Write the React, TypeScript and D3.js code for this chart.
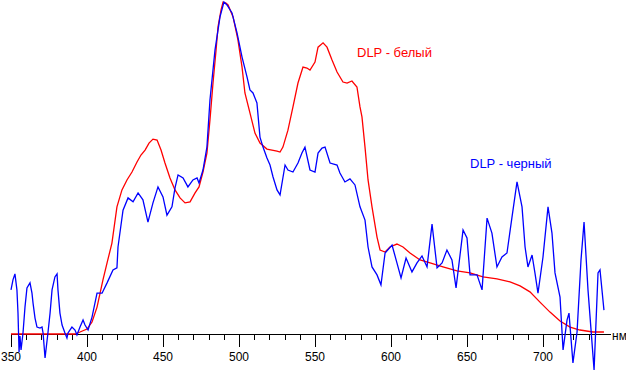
import React from "react";
import * as d3 from "d3";

const W = 626;
const H = 371;

// Wavelength tick labels (nm)
const tickLabels = [350, 400, 450, 500, 550, 600, 650, 700];
const minorTicks = d3.range(350, 731, 10);

// "DLP - белый" (red) series
const whiteNm = [350, 392.1, 395.4, 400, 403.3, 406.6, 410.5, 413.2, 416.4, 419.7, 423.0, 426.3, 429.6, 432.9, 435.5, 438.2, 440.8, 443.4, 446.1, 448.7, 451.3, 454.6, 457.9, 461.2, 464.5, 467.8, 471.1, 473.7, 476.3, 478.9, 480.9, 482.9, 484.9, 486.2, 488.2, 489.5, 491.4, 492.8, 496.1, 499.3, 502.0, 503.9, 507.2, 510.5, 513.8, 518.4, 525.0, 527.0, 528.9, 532.2, 535.5, 538.8, 542.1, 544.7, 546.7, 550, 552.0, 555.3, 557.9, 561.2, 564.5, 568.4, 571.1, 574.3, 577.6, 579.6, 580.9, 582.9, 584.9, 587.5, 590.8, 592.8, 596.1, 599.3, 603.9, 607.9, 612.5, 619.1, 625.7, 634.2, 643.4, 652.0, 660.5, 669.7, 678.3, 684.9, 691.4, 698.0, 704.6, 711.2, 717.8, 724.3, 732.9, 740.1];
const whiteVal = [0, 0, 0.6, 1.5, 3.6, 8.1, 16.3, 21.4, 27.4, 38.3, 43.4, 46.4, 48.8, 51.8, 53.9, 55.4, 57.5, 58.7, 58.4, 55.4, 51.5, 47.0, 43.4, 41.0, 39.5, 39.8, 42.5, 44.3, 48.8, 54.5, 64.5, 75.6, 85.5, 92.5, 97.6, 100, 99.7, 99.1, 95.5, 88.6, 80.4, 72.6, 66.6, 60.5, 57.5, 55.7, 55.1, 54.8, 56.3, 61.4, 68.4, 75.6, 80.4, 80.1, 79.5, 81.9, 86.4, 87.7, 86.4, 82.5, 78.9, 75.9, 75.6, 76.2, 74.4, 68.4, 65.4, 56.3, 46.4, 38.3, 29.2, 25.3, 24.7, 26.2, 27.1, 26.2, 24.4, 22.3, 21.4, 20.2, 19.0, 18.4, 17.2, 16.6, 15.7, 14.5, 12.7, 9.6, 6.6, 3.9, 2.1, 1.2, 0.6, 0.6];

// "DLP - черный" (blue) series
const blackNm = [350, 351.3, 352.6, 353.9, 354.6, 355.3, 355.9, 356.6, 357.9, 359.2, 360.5, 362.5, 363.8, 364.5, 365.8, 367.1, 369.1, 370.4, 371.1, 372.4, 374.3, 375.7, 377.0, 378.9, 380.3, 380.9, 382.2, 383.6, 385.5, 386.8, 387.5, 390.1, 392.1, 393.4, 395.4, 397.4, 398.7, 400.7, 403.3, 406.6, 409.9, 413.2, 417.1, 419.7, 420.4, 423.7, 427.0, 430.3, 433.6, 436.8, 440.1, 443.4, 446.7, 450, 452.6, 455.9, 457.9, 459.9, 463.2, 466.4, 469.7, 472.4, 473.7, 476.3, 478.9, 480.9, 484.2, 487.5, 490.1, 492.1, 495.4, 498.7, 502.0, 505.3, 507.2, 509.2, 511.8, 513.8, 515.8, 518.4, 520.4, 522.4, 525.0, 527.0, 530.3, 532.2, 535.5, 538.8, 541.4, 543.4, 546.7, 550, 552.0, 554.6, 556.6, 559.9, 564.5, 566.4, 569.7, 573.0, 576.3, 579.6, 582.9, 584.9, 587.5, 590.8, 593.4, 596.1, 600.7, 603.9, 606.6, 609.9, 613.8, 617.1, 620.4, 623.7, 627.0, 630.3, 633.6, 636.8, 640.1, 642.8, 647.4, 650, 652.0, 656.6, 659.9, 663.2, 666.4, 669.7, 673.0, 676.3, 679.6, 682.9, 686.2, 688.2, 690.1, 692.8, 694.7, 696.7, 700, 703.3, 705.9, 707.9, 711.2, 713.2, 715.8, 717.1, 719.7, 722.4, 725.0, 727.0, 729.6, 733.6, 736.2, 737.5, 740.1];
const blackVal = [13.3, 16.3, 18.1, 13.3, 6.3, -5.4, -0.6, -4.8, 0.3, 8.1, 13.9, 15.4, 12.3, 9.3, 4.8, 2.1, 1.8, 2.1, 0.3, -7.2, 0.3, 6.3, 13.3, 17.2, 18.1, 13.3, 6.3, 2.7, 0.3, -1.2, 0.3, 2.1, 1.2, -0.3, 2.1, 4.2, 2.7, 1.2, 5.1, 12.3, 12.3, 15.4, 19.3, 19.9, 26.2, 37.3, 41.0, 39.8, 42.5, 40.4, 33.7, 39.5, 44.3, 41.3, 35.8, 38.3, 44.0, 47.9, 47.0, 44.3, 46.4, 47.0, 45.5, 49.4, 56.3, 70.5, 85.5, 95.5, 100, 99.1, 96.7, 90.7, 83.4, 77.4, 73.5, 72.6, 69.6, 59.3, 56.3, 53.0, 50.9, 47.3, 43.4, 41.9, 50.9, 49.4, 48.8, 51.5, 54.5, 56.3, 49.4, 48.8, 54.5, 56.0, 56.3, 51.5, 50.9, 48.5, 45.8, 46.7, 44.9, 38.3, 34.3, 26.2, 20.2, 17.8, 14.8, 24.4, 26.8, 21.4, 16.9, 22.9, 18.7, 21.4, 23.5, 20.2, 33.1, 19.9, 21.4, 25.3, 22.3, 13.9, 31.3, 28.9, 17.8, 17.8, 13.3, 34.9, 30.4, 20.2, 23.2, 24.4, 35.2, 45.8, 38.3, 26.2, 20.2, 23.8, 18.4, 12.3, 23.2, 38.3, 30.4, 18.4, 11.1, -4.8, 4.2, 6.3, -8.7, 0.6, 22.3, 33.7, 13.3, -10.8, 18.4, 19.3, 7.2];

const seriesLabels = { white: "DLP - белый", black: "DLP - черный" };
const unitLabel = "нм";

export default function App() {
  const x = d3.scaleLinear().domain([350, 700]).range([11, 543]);
  const y = d3.scaleLinear().domain([0, 100]).range([334, 2]);
  const line = d3
    .line<[number, number]>()
    .x((d) => x(d[0]))
    .y((d) => y(d[1]));

  const whiteData = whiteNm.map((n, i) => [n, whiteVal[i]] as [number, number]);
  const blackData = blackNm.map((n, i) => [n, blackVal[i]] as [number, number]);
  const axisY = y(0) + 0.5;
  const font = "Arial, 'Liberation Sans', sans-serif";

  return (
    <div style={{ position: "absolute", left: 0, top: 0 }}>
      <svg width={W} height={H} style={{ display: "block", background: "#fff" }}>
        <rect x={0} y={0} width={W} height={H} fill="#fff" />
        {/* axis */}
        <line x1={x(350)} x2={x(745)} y1={axisY} y2={axisY} stroke="#000" strokeWidth={1} shapeRendering="crispEdges" />
        {minorTicks.map((t) => {
          const px = Math.round(x(t)) + 0.5;
          const major = t % 50 === 0;
          return (
            <line key={t} x1={px} x2={px} y1={axisY} y2={axisY + (major ? 12 : 5)} stroke="#000" strokeWidth={1} shapeRendering="crispEdges" />
          );
        })}
        {tickLabels.map((t) => (
          <text key={t} x={x(t)} y={361} textAnchor="middle" fontFamily={font} fontSize={12} fill="#000">
            {t}
          </text>
        ))}
        <text x={612} y={340} fontFamily={font} fontSize={12} fill="#000">
          {unitLabel}
        </text>
        {/* series */}
        <path d={line(whiteData) || ""} fill="none" stroke="#ff0000" strokeWidth={1.3} />
        <path d={line(blackData) || ""} fill="none" stroke="#0000ff" strokeWidth={1.3} />
        <text x={357} y={57} fontFamily={font} fontSize={13} fill="#ff0000">
          {seriesLabels.white}
        </text>
        <text x={470} y={168} fontFamily={font} fontSize={13} fill="#0000ff">
          {seriesLabels.black}
        </text>
      </svg>
    </div>
  );
}
